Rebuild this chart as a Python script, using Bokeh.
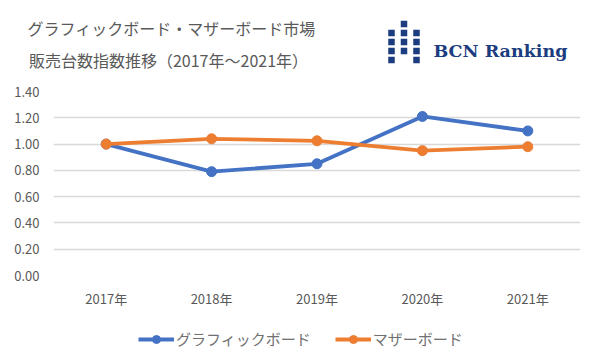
from bokeh.plotting import figure
from bokeh.models import (Range1d, FactorRange, Legend, LegendItem, FixedTicker,
                          NumeralTickFormatter, ColumnDataSource, Label)
from bokeh.layouts import column
from bokeh.embed import file_html
from bokeh.resources import INLINE
from bokeh.core.properties import value

years = ["2017年", "2018年", "2019年", "2020年", "2021年"]
graphics = [1.00, 0.79, 0.85, 1.21, 1.10]
mother = [1.00, 1.04, 1.025, 0.95, 0.98]
y_ticks = [0.0, 0.2, 0.4, 0.6, 0.8, 1.0, 1.2, 1.4]
series_names = ["グラフィックボード", "マザーボード"]
title_lines = ["グラフィックボード・マザーボード市場", "販売台数指数推移（2017年～2021年）"]
logo_text = "BCN Ranking"

BLUE = "#4472C4"
ORANGE = "#ED7D31"
NAVY = "#1B3C7E"
GRAY = "#595959"
JP = "Noto Sans CJK JP"

FRAME_L, FRAME_R = 53, 580   # page x of the chart's plot frame


def bare(fig):
    fig.outline_line_color = None
    fig.grid.visible = False
    try:
        fig.frame_align = False
    except Exception:
        pass
    return fig


# ---------- header (data coords == page pixels) ----------
h = bare(figure(width=584, height=83, output_backend="svg", toolbar_location=None,
                x_range=Range1d(0, 584), y_range=Range1d(83, 0),
                x_axis_location=None, y_axis_location=None,
                min_border=0, min_border_left=0, min_border_right=0,
                min_border_top=0, min_border_bottom=0))
for txt, tx, ty in zip(title_lines, [171, 168], [27, 59]):
    h.add_layout(Label(x=tx, y=ty, text=txt, text_font=JP, text_font_size="16px",
                       text_color=GRAY, text_align="center", text_baseline="middle"))
sq_x = [403.5, 391, 403.5, 416, 391, 403.5, 416, 391, 403.5, 416, 391, 416]
sq_y = [23.5, 32.5, 32.5, 32.5, 41.5, 41.5, 41.5, 50.5, 50.5, 50.5, 59.5, 59.5]
h.rect(x=sq_x, y=sq_y, width=6.5, height=6.5, fill_color=NAVY, line_color=None)
h.text(x=[433], y=[50], text=[logo_text], text_font=value("DejaVu Serif"), text_font_style="bold",
       text_font_size="17.5px", text_color=NAVY, text_align="left", text_baseline="alphabetic")

# ---------- main chart ----------
p = figure(width=584, height=232, output_backend="svg", toolbar_location=None,
           x_range=FactorRange(*years), y_range=Range1d(0, 1.4),
           min_border_left=FRAME_L, min_border_right=584 - FRAME_R,
           min_border_top=8, min_border_bottom=40)
try:
    p.frame_align = False
except Exception:
    pass
p.outline_line_color = None
p.xgrid.visible = False
p.ygrid.grid_line_color = "#D9D9D9"
p.ygrid.grid_line_width = 1.3
p.yaxis.ticker = FixedTicker(ticks=y_ticks)
p.yaxis.formatter = NumeralTickFormatter(format="0.00")
for ax in (p.xaxis, p.yaxis):
    ax.axis_line_color = None
    ax.major_tick_line_color = None
    ax.minor_tick_line_color = None
    ax.major_label_text_font = JP
    ax.major_label_text_font_size = "13px"
    ax.major_label_text_color = GRAY
p.yaxis.major_label_standoff = 8
p.xaxis.major_label_standoff = 7

src = ColumnDataSource(dict(x=years, g=graphics, m=mother))
p.line("x", "g", source=src, line_color=BLUE, line_width=3.8)
p.scatter("x", "g", source=src, size=10, fill_color=BLUE, line_color=BLUE)
p.line("x", "m", source=src, line_color=ORANGE, line_width=3.8)
p.scatter("x", "m", source=src, size=10, fill_color=ORANGE, line_color=ORANGE)

# ---------- legend strip ----------
lg = bare(figure(width=584, height=40, output_backend="svg", toolbar_location=None,
                 x_range=FactorRange(*years), y_range=Range1d(10, 11),
                 x_axis_location=None, y_axis_location=None,
                 min_border=0, min_border_left=0, min_border_right=0,
                 min_border_top=0, min_border_bottom=0))
l1 = lg.line("x", "g", source=src, line_color=BLUE, line_width=3.8)
c1 = lg.scatter("x", "g", source=src, size=10, fill_color=BLUE, line_color=BLUE)
l2 = lg.line("x", "m", source=src, line_color=ORANGE, line_width=3.8)
c2 = lg.scatter("x", "m", source=src, size=10, fill_color=ORANGE, line_color=ORANGE)
legend = Legend(items=[LegendItem(label=series_names[0], renderers=[l1, c1]),
                       LegendItem(label=series_names[1], renderers=[l2, c2])],
                orientation="horizontal", location=(142 - 4, 6),
                border_line_color=None, background_fill_alpha=0,
                label_text_font=JP, label_text_font_size="15px", label_text_color="#707070",
                glyph_width=36, label_standoff=2, spacing=24, padding=4, margin=0)
lg.add_layout(legend, "center")

layout = column(h, p, lg, spacing=0)
open("out.html", "w").write(file_html(layout, INLINE))
